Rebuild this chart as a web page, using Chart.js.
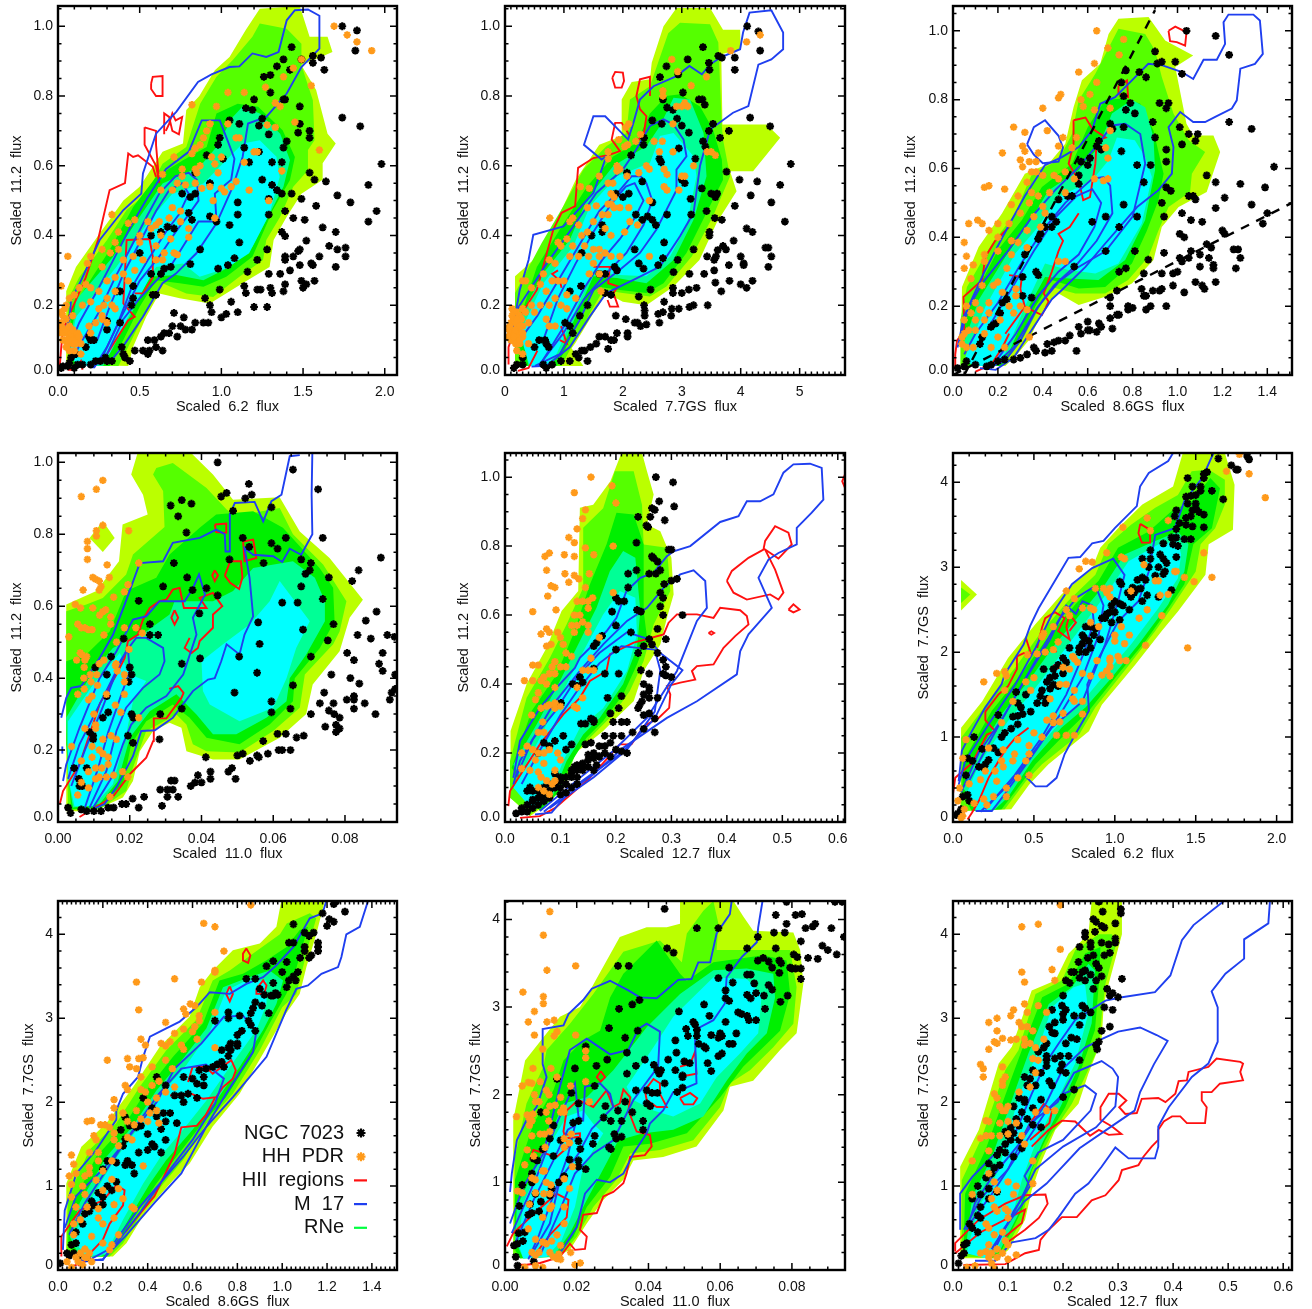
<!DOCTYPE html>
<html>
<head>
<meta charset="utf-8">
<title>Scaled PAH flux correlations</title>
<script src="https://cdn.jsdelivr.net/npm/chart.js@4"></script>
<style>
html,body{margin:0;padding:0;background:#fff;overflow:hidden;width:1312px;height:1309px}
canvas{position:absolute}
</style>
</head>
<body>
<script>
// tick values and labels
const ticks62 = [0,0.5,1,1.5,2], labels62 = ['0.0','0.5','1.0','1.5','2.0'];
const ticks77 = [0,1,2,3,4,5], labels77 = ['0','1','2','3','4','5'];
const ticks86 = [0,0.2,0.4,0.6,0.8,1,1.2,1.4], labels86 = ['0.0','0.2','0.4','0.6','0.8','1.0','1.2','1.4'];
const ticks110 = [0,0.02,0.04,0.06,0.08], labels110 = ['0.00','0.02','0.04','0.06','0.08'];
const ticks127 = [0,0.1,0.2,0.3,0.4,0.5,0.6], labels127 = ['0.0','0.1','0.2','0.3','0.4','0.5','0.6'];
const ticks112 = [0,0.2,0.4,0.6,0.8,1], labels112 = ['0.0','0.2','0.4','0.6','0.8','1.0'];
const ticksY77 = [0,1,2,3,4], labelsY77 = ['0','1','2','3','4'];

// panel 1: 6.2 vs 11.2
const p1Fill = [
[[.05,.03,.05,.24,.11,.31,.255,.406,.4,.5,.5,.54,.64,.64,.765,.664,.785,.76,.865,.8,.96,.874,1.05,.912,1.15,.99,1.235,1.05,1.48,1.058,1.54,.97,1.65,.97,1.68,.926,1.49,.888,1.58,.817,1.65,.692,1.7,.664,1.62,.607,1.62,.56,1.49,.52,1.4,.454,1.32,.387,1.295,.31,1.13,.263,.93,.205,.745,.22,.62,.234,.54,.167,.46,.081,.43,.026]],
[[.06,.03,.06,.215,.13,.28,.3,.387,.42,.473,.54,.52,.64,.606,.785,.654,.87,.778,.97,.855,1.07,.903,1.19,.97,1.235,1.008,1.4,.993,1.49,.95,1.49,.888,1.56,.788,1.57,.673,1.53,.645,1.53,.587,1.44,.54,1.36,.454,1.275,.387,1.255,.33,1.11,.282,.95,.224,.785,.234,.64,.263,.52,.167,.43,.081,.37,.026]],
[[.07,.03,.08,.186,.315,.358,.46,.482,.6,.568,.765,.616,.91,.654,.97,.75,1.1,.778,1.225,.769,1.375,.702,1.45,.625,1.42,.559,1.315,.473,1.235,.387,1.19,.339,1.03,.282,.89,.253,.745,.263,.6,.272,.5,.196,.4,.1,.315,.026]],
[[.09,.138,.11,.215,.337,.339,.5,.454,.64,.549,.867,.597,.97,.654,1.07,.74,1.13,.77,1.235,.75,1.36,.692,1.42,.616,1.38,.54,1.275,.444,1.19,.368,1.05,.31,.89,.272,.725,.287,.56,.282,.46,.186,.34,.081,.275,.026,.12,.026]],
[[.07,.062,.11,.167,.357,.31,.56,.444,.7,.52,.89,.549,1.05,.626,1.13,.664,1.235,.673,1.337,.626,1.357,.568,1.295,.463,1.17,.349,1.03,.306,.867,.282,.765,.32,.6,.31,.46,.196,.316,.062,.235,.026,.12,.026]]
];
const p1Blue = [
[.18,.026,.337,.048,.41,.09,.52,.167,.64,.263,.72,.29,.847,.349,.97,.435,1.07,.54,1.13,.625,1.163,.721,1.275,.74,1.4,.807,1.49,.883,1.6,.936,1.6,1.03,1.53,1.048,1.45,1.046,1.4,1.017,1.35,.926,1.275,.912,1.19,.922,1.11,.885,1.05,.883,.94,.862,.857,.84,.725,.755,.6,.692,.52,.578,.51,.52,.4,.473,.255,.387,.133,.263,.08,.215,.07,.158,.03,.12],
[.21,.02,.3,.06,.4,.16,.5,.22,.7,.32,.86,.44,.97,.44,.96,.52,1.06,.56,1.08,.62,1.04,.67,.99,.73,.88,.73,.8,.64,.66,.59,.55,.51,.45,.43,.35,.34,.25,.25,.13,.15,.06,.07],
[.22,.02,.3,.08,.38,.16,.5,.27,.62,.34,.72,.41,.8,.46,.86,.5,.85,.56,.8,.58,.72,.57,.62,.52,.55,.46,.45,.37,.35,.28,.25,.18,.15,.1,.08,.04],
[.25,.03,.36,.14,.45,.25,.55,.33,.66,.41,.74,.46,.8,.52,.76,.55,.68,.53,.6,.47,.5,.38,.4,.29,.32,.2,.24,.1]
];
const p1Red = [
[.01,.02,.02,.08,.03,.13,.17,.28,.245,.387,.316,.53,.41,.55,.43,.635,.46,.625,.49,.63,.58,.597,.6,.568],
[.53,.71,.53,.66,.6,.6,.62,.55,.6,.66,.6,.7,.53,.71],
[.65,.69,.65,.75,.68,.74,.7,.7,.74,.69,.76,.74,.72,.73,.7,.75,.68,.72,.66,.7],
[.57,.836,.58,.855,.64,.857,.64,.8,.6,.8,.57,.82,.57,.836],
[.3,.06,.43,.157,.47,.167,.4,.205,.42,.387,.56,.39,.58,.34,.58,.28,.52,.234,.47,.234],
[.06,.015,.1,.015,.14,.04,.15,.015]
];
const p1Black = [1.74,1,1.83,.988,1.82,.93,1.43,.94,1.49,.905,1.56,.915,1.56,.895,1.61,.91,1.63,.875,1.38,.905,1.34,.885,1.42,.875,1.3,.86,1.26,.855,1.3,.81,1.2,.79,1.38,.79,1.39,.79,1.15,.765,1.19,.76,1.48,.77,1.74,.738,1.85,.713,1.05,.73,1.11,.72,1.25,.735,1.23,.715,1.29,.69,1.48,.72,1.47,.695,1.54,.7,1.54,.68,.99,.68,.98,.66,1.14,.652,1.4,.67,1.38,.652,1.23,.64,1.01,.62,.91,.63,1.17,.61,1.31,.61,1.37,.61,1.98,.605,1.54,.58,.84,.58,1.57,.56,1.64,.555,.93,.55,1.25,.56,1.31,.545,1.9,.545,1.34,.53,1.37,.52,1.43,.52,.76,.52,.81,.51,.84,.52,1.71,.515,1.49,.505,1.29,.505,1.79,.495,1.1,.495,1.58,.485,1.95,.47,1.39,.47,1.1,.46,.8,.465,1.29,.46,.93,.455,.82,.445,.97,.44,1.44,.45,1.51,.445,1.9,.44,1.05,.43,.71,.42,.63,.41,1.62,.423,1.7,.41,1.37,.41,.57,.4,1.39,.398,.67,.425,1.52,.385,1.11,.38,1.66,.37,1.71,.36,1.76,.365,.87,.36,1.28,.36,1.48,.36,1.47,.355,.5,.35,1.22,.33,1.08,.335,1.39,.34,1.44,.34,1.6,.34,1.76,.34,1.39,.33,1.55,.32,1.56,.315,1.48,.315,.81,.318,.98,.305,1.04,.315,.69,.31,1.7,.31,1.42,.3,1.16,.296,1.29,.29,1.36,.29,.57,.29,.63,.29,.65,.305,1.49,.27,1.57,.27,1.52,.26,1.5,.25,1.39,.26,1.14,.255,1.3,.25,1.22,.245,.46,.255,.99,.245,1.24,.245,1.38,.24,1.31,.235,1.15,.235,.58,.23,.6,.23,.9,.22,.46,.22,1.06,.21,.45,.2,.93,.2,1.28,.195,1.2,.195,1.1,.18,.71,.178,.77,.165,.94,.18,1.03,.175,1,.165,.84,.15,.89,.15,.92,.15,.7,.14,.75,.14,.78,.13,.82,.13,.65,.12,.68,.12,.63,.11,.73,.11,.55,.1,.59,.1,.6,.08,.52,.07,.64,.07,.47,.07,.55,.06,.56,.07,.39,.08,.4,.06,.41,.05,.44,.04,.33,.04,.29,.05,.3,.04,.26,.04,.23,.04,.2,.03,.15,.03,.12,.03,.1,.02,.06,.025,.03,.025,.02,.02,.07,.035,.08,.05,.11,.06,.17,.08,.19,.11,.2,.1,.22,.1,.38,.15,.3,.155,.3,.13,.38,.24,.36,.24];
const p1Orange = [1.69,1,1.77,.975,1.83,.955,1.92,.93,1.49,.905,1.44,.88,1.38,.855,1.55,.83,1.27,.825,1.04,.81,1.14,.81,1.36,.77,.82,.775,.97,.77,1.33,.78,1.45,.725,1.28,.717,1.33,.71,1.04,.72,.93,.72,.91,.7,.89,.68,1.09,.68,1.11,.68,.87,.66,1.2,.64,1.22,.64,1.6,.645,.82,.635,.84,.65,.94,.625,1,.625,.96,.605,.71,.625,.76,.59,.84,.59,.87,.6,.85,.58,1.14,.61,.98,.58,1.37,.585,.64,.575,.76,.57,.73,.55,.78,.545,.84,.55,.88,.535,.93,.54,1,.535,.7,.53,.63,.53,1.02,.525,1.06,.54,1.09,.555,1.17,.53,1.29,.5,.95,.5,.7,.48,.75,.47,.96,.45,.33,.46,.6,.43,.43,.435,.47,.445,.55,.44,.62,.44,.68,.45,.75,.44,.8,.42,.37,.41,.5,.4,.57,.42,.63,.4,.69,.39,.8,.395,.35,.38,.37,.36,.5,.38,.6,.37,.65,.35,.71,.35,.73,.345,.27,.36,.32,.35,.4,.33,.46,.34,.52,.33,.06,.34,.2,.34,.18,.32,.27,.31,.4,.29,.47,.3,.6,.33,.64,.33,.35,.28,.43,.27,.3,.27,.02,.255,.13,.25,.17,.26,.2,.25,.25,.24,.3,.22,.35,.24,.07,.22,.1,.23,.15,.2,.2,.21,.25,.19,.28,.2,.33,.2,.35,.19,.05,.2,.27,.17,.3,.15,.23,.15,.19,.14,.2,.12,.09,.17,.02,.18,.02,.15,.03,.13,.02,.12,.06,.12,.08,.1,.1,.11,.12,.1,.06,.09,.09,.09,.14,.09,.04,.1,.03,.1,.1,.07,.14,.06,.07,.07,.27,.16,.06,.1,.11,.09,.05,.08,.04,.12,.05,.13,.07,.11,.08,.12,.09,.1,.1,.09,.03,.17,.04,.19,.05,.16,.07,.14,.09,.13,.12,.12,.13,.11,.02,.14];

// panel 2: 7.7GS vs 11.2
const p2Fill = [
[[.17,.026,.17,.283,.48,.33,.88,.445,1.2,.56,1.6,.66,1.98,.685,1.98,.79,2.15,.84,2.46,.848,2.49,.895,2.69,1,2.91,1.052,3.48,1.052,3.7,.99,3.99,.99,4,.934,3.67,.92,3.69,.718,4.44,.718,4.67,.68,4.21,.584,3.82,.584,3.93,.527,3.59,.436,3.3,.33,2.86,.254,2.4,.2,2,.21,1.72,.235,1.5,.177,1.19,.09,1.13,.077,1.33,.026]],
[[.17,.026,.17,.235,.62,.378,.99,.484,1.33,.589,1.72,.656,2.06,.694,2.12,.79,2.46,.828,2.77,.98,2.97,1.01,3.48,1.006,3.62,.953,3.68,.714,3.7,.675,3.82,.57,3.53,.455,3.17,.34,2.74,.254,2.46,.225,2,.235,1.67,.244,1.44,.177,1.1,.072,.96,.026]],
[[.17,.12,.54,.31,.93,.417,1.39,.54,1.84,.627,2.23,.665,2.46,.75,2.74,.8,2.97,.805,3.31,.77,3.53,.704,3.68,.618,3.7,.56,3.42,.465,3.08,.35,2.69,.263,2.4,.235,1.95,.244,1.56,.254,1.33,.187,.99,.062,.88,.026,.31,.026]],
[[.23,.158,.65,.292,1.1,.388,1.39,.503,1.84,.6,2.4,.656,2.63,.714,2.86,.795,3.14,.79,3.37,.694,3.42,.57,3.2,.445,2.86,.33,2.4,.263,1.9,.278,1.5,.283,1.27,.196,.93,.062,.76,.026,.4,.026]],
[[.25,.12,.65,.263,1.16,.369,1.44,.484,1.9,.57,2.46,.608,2.63,.685,2.86,.694,3.2,.627,3.25,.57,3.08,.426,2.8,.34,2.4,.283,1.95,.287,1.5,.297,1.22,.196,.88,.062,.7,.026,.42,.026]]
];
const p2Blue = [
[.45,.024,.7,.026,1.1,.08,1.44,.168,1.72,.235,2.18,.273,2.63,.311,2.97,.398,3.2,.465,3.31,.6,3.48,.704,3.87,.752,4.13,.771,4.3,.89,4.52,.905,4.72,.934,4.72,.982,4.52,1.046,4.15,1.039,4.04,.982,3.99,.934,3.65,.91,3.48,.89,3.34,.862,3.13,.886,2.91,.857,2.52,.828,2.29,.79,2.18,.723,2.09,.675,1.7,.742,1.5,.742,1.34,.66,1.64,.618,1.72,.627,1.5,.522,.99,.426,.48,.402,.4,.33,.25,.244,.17,.168,.08,.09],
[.51,.026,.93,.06,1.27,.158,1.5,.244,1.95,.302,2.29,.35,2.57,.417,2.91,.53,2.91,.589,3.08,.627,3.03,.675,2.86,.718,2.69,.733,2.46,.714,2.23,.647,2,.589,1.55,.522,1.16,.426,.71,.32,.2,.187,.11,.1],
[.57,.026,.99,.12,1.33,.215,1.67,.283,2.06,.35,2.35,.43,2.5,.5,2.4,.55,2.3,.57,2.15,.57,1.95,.53,1.6,.47,1.25,.37,.9,.27,.55,.17,.25,.1],
[.6,.03,1,.14,1.35,.25,1.65,.33,1.95,.39,2.2,.45,2.35,.5,2.2,.55,2.05,.54,1.8,.49,1.5,.41,1.2,.32,.9,.22,.65,.1]
];
const p2Red = [
[.06,.03,.06,.08,.1,.1],
[.25,.168,.54,.244,.71,.35,.82,.417,.96,.465,1.19,.484,1.24,.594,1.5,.622,1.78,.632,1.95,.642,1.81,.675,1.87,.723,1.98,.723,2.12,.685],
[1.82,.852,1.87,.869,2,.867,2.02,.843,1.98,.824,1.87,.824,1.82,.852],
[2.18,.665,2.35,.685,2.4,.742,2.29,.762,2.23,.8,2.29,.848,2.46,.855,2.46,.8],
[1.5,.31,1.78,.31,1.75,.263,1.92,.254,1.84,.235,1.92,.196,1.78,.196,1.74,.215],
[.9,.3,.8,.29,.93,.27,.96,.25],
[.22,.012,.4,.02,.55,.07],
[.93,.1,1.05,.09,.95,.14]
];
const p2Black = [4.11,1,4.3,.985,4.33,.93,3.36,.94,3.1,.905,3.62,.915,3.68,.91,3.9,.91,3.9,.875,3.46,.895,3.47,.875,2.74,.885,2.94,.862,2.63,.854,3.02,.81,3.29,.79,3.35,.79,3.39,.775,2.68,.79,2.75,.767,2.85,.76,4.16,.738,4.5,.713,2.5,.73,2.66,.72,2.92,.735,3,.715,3.12,.695,3.53,.72,3.46,.7,3.8,.7,3.65,.68,2.36,.68,2.35,.66,2.95,.65,3.36,.67,3.4,.655,2.62,.62,2.65,.61,3.23,.62,2.14,.63,4.85,.605,2.07,.58,3.76,.583,3.98,.56,4.28,.555,3,.56,3.05,.55,2.33,.555,4.67,.545,3.34,.535,3.5,.52,3.6,.52,3.57,.51,1.88,.52,2.1,.52,2,.51,4.17,.515,3.15,.505,2.5,.495,4.52,.495,3.9,.485,3.42,.47,2.75,.46,3.16,.46,2.22,.46,2.42,.455,2.33,.445,3.56,.45,2.5,.445,3.68,.445,4.75,.44,2.56,.43,1.65,.43,1.65,.41,4.1,.42,4.2,.41,3.47,.41,3.47,.4,1.47,.4,2.7,.38,3.88,.385,4.42,.365,4.47,.365,3.75,.36,3.2,.36,3.7,.37,2.2,.36,3.61,.358,1.3,.35,3.43,.34,4,.34,4.52,.34,3.58,.34,3.55,.33,2.68,.335,2.6,.315,2.93,.33,2.35,.305,4.47,.31,4.05,.315,4.05,.32,3.8,.315,3.55,.3,3.38,.29,3.13,.29,2.86,.295,1.86,.31,1.9,.3,2.27,.32,1.7,.29,1.6,.29,3.57,.265,3.81,.27,4,.26,4.1,.25,4.2,.27,3.67,.24,2.85,.25,3.25,.25,3.12,.245,1.29,.255,1.1,.24,2.47,.245,2.27,.225,1.7,.235,1.8,.23,2.85,.235,3,.235,1.4,.2,2.7,.21,2.36,.2,3.44,.2,3.2,.2,3.13,.195,2.37,.185,2.83,.19,2.95,.19,1.27,.17,1.88,.17,2.05,.16,2.82,.17,2.37,.17,2.2,.15,2.25,.15,2.6,.175,2.68,.18,2.62,.15,2.4,.145,2.3,.14,1.02,.15,1.1,.14,1.15,.12,2.08,.12,2.08,.11,1.9,.12,1.7,.11,1.8,.1,1.85,.1,1.6,.11,1.55,.09,1.45,.08,1.3,.07,1.35,.07,1.2,.06,1.25,.05,1.1,.04,.95,.04,.8,.03,.7,.02,.65,.03,.3,.03,.15,.02,.2,.03,.3,.05,.5,.08,.58,.1,.68,.1,.7,.09,.74,.08,1.75,.075,1.4,.04];
const p2Orange = [4.1,.955,4.33,.975,3.83,.93,2.83,.905,2.93,.87,3.42,.855,3.16,.83,2.68,.815,2.68,.8,3.05,.78,3.1,.77,3,.77,2.91,.77,2.85,.72,2.1,.72,2.05,.71,1.93,.675,2.3,.69,2.22,.67,2.08,.66,2.03,.655,2.53,.67,2.67,.67,2.85,.64,3.43,.64,3.5,.64,3.57,.63,2.62,.64,1.75,.64,1.75,.62,1.9,.6,2.4,.6,2.45,.59,2.27,.58,2.07,.57,1.9,.585,1.95,.59,2.7,.59,2.75,.575,3,.57,3.05,.57,3.2,.6,.76,.45,1.28,.54,1.43,.535,1.6,.57,1.75,.55,1.83,.55,1.8,.52,1.85,.51,2.7,.54,2.75,.53,2.95,.53,1.75,.49,1.8,.49,1.55,.485,1.4,.48,1.65,.46,1.75,.46,1.85,.48,1.95,.48,2.1,.48,2.45,.5,2.25,.43,2.12,.44,2.03,.41,1.15,.45,1.1,.44,1.25,.43,1.4,.41,1.5,.44,1.3,.4,1.7,.42,1.8,.4,1.05,.39,.9,.38,.95,.37,1.15,.37,1.35,.37,1.5,.36,1.6,.36,1.7,.35,1.8,.34,1.95,.34,2.45,.34,.75,.33,.85,.32,1.1,.34,1.25,.34,1.42,.34,1.5,.32,1.6,.34,.3,.27,.35,.27,.45,.25,.65,.29,.8,.27,.9,.27,1,.27,1.43,.29,1.6,.29,.6,.26,.7,.24,.85,.22,1.05,.23,1.2,.22,1.63,.24,.45,.2,.6,.2,.75,.2,.95,.2,1.05,.19,.3,.19,.2,.18,.12,.19,.25,.17,.35,.18,.5,.18,.7,.16,.75,.14,.85,.14,.1,.15,.15,.16,.2,.15,.3,.14,.4,.15,.1,.12,.15,.12,.22,.13,.3,.11,.07,.13,.05,.11,.12,.1,.18,.09,.25,.09,.4,.09,.2,.07,.3,.06,.15,.18,.18,.15,.2,.12,.25,.14,.12,.17,.17,.13,.1,.1,.22,.11,.3,.12,.28,.16,.15,.11,.2,.16,.08,.14,.25,.1];

// panel 3: 8.6GS vs 11.2 (with the two dashed reference lines)
const p3Fill = [
[[.035,.026,.04,.256,.114,.372,.218,.469,.32,.585,.426,.614,.5,.672,.537,.778,.574,.856,.656,.904,.693,.991,.737,1.035,.871,1.04,.945,.972,1.07,.928,.99,.895,1.04,.73,1.07,.696,1.16,.696,1.19,.648,1.13,.532,1.005,.488,.93,.43,.893,.334,.797,.266,.678,.227,.56,.203,.47,.237,.41,.198,.337,.1,.277,.053,.233,.026]],
[[.033,.026,.033,.16,.062,.256,.174,.382,.277,.469,.352,.585,.47,.624,.53,.7,.56,.798,.634,.875,.737,1.006,.856,.991,.9,.943,.93,.866,.982,.76,1.05,.682,1.123,.648,1.064,.585,1.056,.532,.96,.488,.915,.42,.87,.343,.78,.276,.678,.237,.545,.237,.44,.256,.38,.19,.307,.1,.263,.063,.218,.026]],
[[.047,.14,.085,.218,.2,.363,.307,.45,.396,.546,.53,.614,.6,.72,.678,.8,.767,.803,.834,.788,.893,.71,.938,.585,.915,.508,.864,.42,.797,.324,.678,.256,.56,.251,.44,.276,.366,.198,.277,.082,.218,.026,.07,.026]],
[[.047,.09,.114,.218,.233,.343,.337,.44,.426,.537,.56,.595,.648,.662,.708,.76,.797,.8,.856,.778,.893,.69,.9,.595,.856,.45,.767,.334,.648,.276,.515,.28,.41,.285,.337,.198,.248,.063,.188,.026,.085,.026]],
[[.055,.053,.144,.198,.277,.353,.366,.42,.47,.517,.62,.566,.693,.624,.73,.69,.81,.682,.856,.633,.886,.575,.841,.44,.737,.324,.634,.295,.515,.305,.41,.324,.32,.198,.233,.063,.174,.026,.085,.026]]
];
const p3Blue = [
[.12,.02,.19,.015,.27,.05,.36,.14,.44,.22,.485,.247,.59,.314,.678,.382,.82,.488,.915,.537,.975,.585,.982,.662,.96,.72,1.012,.764,1.07,.735,1.123,.735,1.168,.75,1.242,.774,1.264,.798,1.28,.89,1.345,.904,1.38,.933,1.367,1.03,1.338,1.047,1.227,1.047,1.205,1.025,1.212,.962,1.175,.916,1.116,.916,1.07,.86,1.02,.88,.93,.9,.87,.904,.797,.856,.722,.807,.656,.788,.619,.71,.56,.662,.485,.633,.41,.61,.32,.52,.22,.4,.14,.3,.07,.2,.04,.13,.02,.08],
[.33,.67,.36,.72,.41,.74,.47,.695,.49,.66,.47,.62,.4,.615,.36,.64,.33,.67],
[.15,.02,.23,.04,.3,.1,.38,.2,.47,.27,.55,.31,.68,.36,.8,.46,.856,.614,.834,.7,.767,.73,.708,.725,.648,.672,.56,.604,.455,.537,.352,.46,.248,.363,.13,.266,.047,.17,.025,.09],
[.17,.02,.27,.08,.37,.19,.45,.26,.55,.32,.64,.39,.71,.47,.7,.55,.67,.575,.62,.57,.5,.5,.4,.42,.3,.32,.2,.21,.1,.12,.05,.06],
[.18,.03,.28,.12,.38,.23,.47,.3,.56,.35,.63,.43,.66,.5,.62,.54,.55,.52,.46,.46,.36,.36,.26,.25,.16,.14]
];
const p3Red = [
[.01,.02,.01,.06,.018,.1,.05,.13,.047,.227,.13,.276,.144,.343,.188,.39,.25,.43],
[.537,.74,.59,.748,.62,.716,.68,.69,.64,.68,.634,.614,.61,.517,.58,.508,.56,.566,.515,.614,.537,.672,.537,.74],
[.96,1,.99,1.012,1.04,.996,1.034,.957,.997,.967,.967,.97,.96,1],
[.737,.84,.775,.856,.78,.807,.737,.817,.737,.84],
[.32,.198,.396,.174,.426,.213,.404,.237,.44,.3,.47,.36,.49,.39,.47,.41,.52,.43,.56,.47],
[.233,.12,.32,.198,.3,.25,.307,.285,.25,.29],
[.1,.01,.17,.03,.22,.08,.25,.12]
];
const p3Black = [1.04,1,1.17,.985,1.23,.93,.9,.94,.99,.91,.93,.91,.91,.905,1.02,.875,.83,.88,.86,.865,.77,.885,.75,.85,.76,.81,.79,.79,.92,.79,.96,.79,.95,.775,.77,.77,.81,.76,.89,.735,1.23,.735,1.33,.715,1.01,.72,1.05,.7,1.09,.7,.7,.73,.71,.715,.76,.72,.9,.69,.65,.68,.64,.665,.66,.655,1.08,.68,1.02,.67,.75,.65,.95,.655,.57,.62,.61,.63,.6,.61,.82,.61,.88,.61,.95,.62,1.43,.605,.56,.58,1.13,.58,.56,.555,.85,.56,1.17,.56,1.28,.555,.95,.545,.97,.535,1.39,.545,.51,.52,.53,.52,.47,.51,1.05,.52,1.07,.52,1.08,.51,1.21,.515,.76,.495,.93,.5,1.33,.495,1.17,.485,1.02,.47,.68,.46,.82,.46,.94,.46,.62,.445,.44,.46,.46,.445,1.06,.45,1.11,.445,1.4,.47,1.38,.44,.41,.43,.44,.43,.39,.41,.74,.43,1.01,.41,1.2,.42,1.21,.41,1.03,.4,.38,.395,1.13,.38,1.15,.37,.81,.36,1.06,.36,.68,.36,.94,.355,.32,.35,1.1,.35,1.25,.365,1.27,.365,1.01,.34,1.05,.34,1.14,.34,1.28,.34,.87,.335,1.02,.33,.54,.315,.77,.31,.74,.3,.37,.3,.38,.29,1.1,.315,1.16,.32,1.16,.31,1.26,.31,.85,.295,.93,.295,.98,.295,1,.3,.31,.285,1.08,.27,1.17,.27,.84,.25,1.11,.26,1.12,.25,.89,.245,.92,.245,.93,.25,.98,.26,1.03,.24,.73,.245,.85,.23,.86,.23,.7,.225,.31,.23,.35,.225,.78,.2,.78,.19,.8,.195,.88,.2,.95,.2,.7,.2,.74,.175,.86,.19,.73,.175,.7,.165,.21,.18,.6,.155,.65,.15,.66,.14,.71,.135,.6,.13,.61,.13,.56,.14,.57,.12,.64,.125,.52,.115,.5,.1,.47,.1,.45,.095,.42,.09,.36,.08,.37,.07,.55,.07,.44,.07,.41,.065,.33,.06,.3,.05,.27,.045,.23,.045,.2,.04,.17,.03,.15,.025,.1,.03,.05,.025,.02,.02,.06,.04,.12,.09,.13,.11,.19,.15,.24,.22,.22,.21,.17,.14];
const p3Orange = [.64,1,.69,.95,.76,.975,.74,.93,.63,.905,.56,.88,.64,.85,.61,.815,.57,.8,.58,.78,.48,.815,.47,.805,.4,.775,.27,.72,.32,.705,.42,.71,.49,.69,.47,.665,.55,.69,.53,.66,.32,.65,.31,.665,.22,.645,.38,.645,.37,.62,.3,.625,.34,.62,.31,.605,.7,.71,.7,.775,.63,.77,.68,.66,.69,.63,.35,.59,.37,.59,.33,.56,.4,.58,.45,.58,.47,.57,.5,.59,.54,.57,.63,.57,.69,.57,.67,.565,.16,.55,.14,.545,.23,.54,.29,.52,.35,.53,.38,.52,.43,.53,.5,.53,.34,.5,.4,.49,.26,.495,.3,.47,.36,.46,.41,.47,.07,.44,.11,.45,.13,.44,.2,.44,.25,.44,.33,.42,.39,.43,.16,.42,.05,.385,.2,.4,.26,.39,.29,.385,.33,.37,.06,.345,.09,.32,.14,.35,.2,.36,.26,.35,.05,.31,.14,.33,.24,.31,.47,.33,.5,.33,.08,.28,.13,.26,.18,.26,.2,.27,.28,.25,.22,.24,.28,.23,.1,.21,.16,.21,.25,.2,.3,.2,.06,.2,.08,.18,.12,.19,.16,.18,.27,.18,.33,.19,.05,.16,.1,.16,.14,.16,.21,.16,.04,.11,.07,.13,.1,.13,.14,.12,.04,.09,.06,.08,.09,.08,.17,.08,.23,.08,.34,.11,.2,.11,.05,.12];
const p3Dash = [[.05,0,.9,1.06],[0,0,1.51,.5]];

// panel 4: 11.0 vs 11.2
const p4Fill = [
[[.0023,.03,.0023,.605,.0107,.642,.017,.725,.018,.827,.025,.855,.0237,.91,.0204,.966,.0223,1.03,.0367,1.03,.0432,.966,.0488,.896,.0618,.903,.0674,.808,.0757,.734,.085,.618,.0813,.568,.0785,.475,.071,.382,.0692,.3,.0618,.234,.0506,.174,.0432,.174,.0358,.197,.0344,.262,.0311,.276,.0265,.253,.0228,.197,.0209,.114,.0181,.068,.0098,.03],[.0088,.79,.0125,.836,.0158,.79,.0125,.751]],
[[.0023,.456,.0023,.586,.0079,.605,.0125,.623,.019,.688,.0209,.744,.0297,.82,.0293,.92,.0265,.966,.0274,.984,.032,.998,.0414,.929,.047,.869,.0493,.85,.0618,.873,.0655,.8,.0739,.716,.0804,.614,.0785,.53,.0767,.494,.0688,.41,.0674,.318,.06,.253,.0506,.193,.0414,.197,.0376,.216,.0358,.271,.033,.299,.0246,.253,.0209,.151,.019,.086,.0116,.035,.0028,.035]],
[[.0023,.216,.0023,.447,.0079,.466,.0144,.53,.019,.642,.0274,.679,.0311,.744,.0395,.818,.0441,.855,.0544,.864,.0627,.818,.0729,.706,.0767,.651,.0771,.558,.073,.484,.066,.4,.0655,.336,.059,.271,.0506,.216,.0414,.234,.0367,.29,.032,.327,.0246,.28,.0204,.216,.0181,.105,.0116,.04,.0037,.035]],
[[.0028,.123,.0023,.29,.0098,.42,.0153,.484,.0246,.53,.0311,.577,.0325,.614,.0432,.614,.0488,.642,.0544,.706,.0655,.725,.0716,.679,.0744,.614,.0744,.558,.0692,.466,.0646,.4,.0637,.336,.0581,.29,.0497,.244,.0432,.244,.0386,.299,.033,.355,.0256,.308,.02,.234,.0167,.114,.0116,.05,.0042,.04]],
[[.0618,.67,.0702,.558,.0664,.484,.0637,.4,.06,.318,.0506,.28,.0423,.327,.0404,.364,.04,.447,.046,.494,.0534,.549,.059,.614],[.0028,.28,.0098,.382,.0172,.47,.02,.41,.0246,.392,.0209,.336,.019,.244,.0153,.105,.0098,.044,.0046,.044,.0028,.123]]
];
const p4Blue = [
[.0085,.03,.013,.05,.0165,.1,.0209,.183,.0232,.253,.027,.255,.032,.29,.0376,.364,.0418,.396,.0437,.4,.0455,.447,.047,.494,.0506,.466,.052,.521,.0544,.572,.0534,.679,.052,.762,.0544,.743,.06,.739,.0625,.723,.0646,.76,.0678,.743,.0709,.8,.0707,.91,.0709,1.026],
[.0009,.29,.0023,.345,.0037,.373,.0065,.378,.0116,.456,.0153,.52,.0186,.605,.0228,.72,.0293,.725,.032,.776,.0395,.79,.0441,.813,.0465,.8,.0467,.752,.0477,.752,.0479,.855,.0493,.887,.0548,.89,.0572,.836,.0595,.892,.0623,.91,.0646,1.017,.0674,1.02],
[.0014,.114,.0023,.16,.006,.262,.0116,.4,.0163,.475,.0209,.563,.0246,.572,.0283,.614,.0353,.614,.0376,.65,.0393,.688,.041,.632,.0376,.568,.0386,.521,.0349,.41,.0302,.35,.0246,.318,.0204,.271,.0181,.216,.0149,.123,.0098,.04],
[.0028,.12,.006,.216,.0125,.345,.019,.475,.0218,.512,.0246,.512,.0293,.484,.0297,.447,.0283,.41,.0237,.373,.019,.318,.0163,.253,.0135,.142,.0088,.04],
[.0037,.1,.0075,.2,.0125,.32,.0175,.45,.0195,.48,.02,.42,.0168,.33,.014,.25,.0112,.15,.0075,.04],
[.0012,.19,.0012,.21]
];
const p4Red = [
[.0005,.05,.0014,.086,.006,.16,.0117,.33,.0163,.41,.0186,.456,.0195,.503,.0223,.521,.0237,.563,.0256,.595,.0283,.614,.0302,.618,.032,.646,.0339,.651,.0351,.595,.0414,.595,.0395,.623,.0432,.637,.0458,.6,.0432,.577,.0432,.54,.0395,.503,.039,.484,.0372,.47,.0353,.484,.0367,.512],
[.0465,.685,.048,.725,.051,.725,.0514,.68,.0505,.648,.048,.665,.0465,.685],
[.0437,.827,.0469,.83,.0469,.804,.0441,.806,.0437,.827],
[.0516,.78,.0544,.785,.0553,.734,.052,.725,.0516,.78],
[.0437,.7,.0446,.686,.0437,.67,.043,.686,.0437,.7],
[.0325,.589,.0335,.568,.0325,.549,.0316,.568,.0325,.589],
[.006,.014,.0153,.07,.0204,.137,.0246,.179,.0265,.225,.0267,.288,.0302,.288,.0344,.345,.035,.359,.0335,.378,.031,.37]
];
const p4Black = [.0445,1,.0655,.98,.0532,.94,.0725,.925,.0455,.905,.047,.915,.0522,.9,.054,.91,.0314,.88,.0345,.895,.0372,.885,.0335,.85,.0595,.875,.0488,.865,.0358,.805,.0515,.79,.0635,.79,.0738,.79,.0595,.775,.0533,.765,.0612,.76,.0323,.72,.0478,.73,.0573,.72,.0678,.73,.0705,.72,.0702,.7,.069,.69,.09,.735,.0838,.7,.082,.67,.036,.68,.0755,.68,.0414,.65,.0293,.655,.0375,.645,.0678,.655,.0445,.63,.0225,.615,.0625,.61,.0668,.61,.0738,.62,.0394,.58,.0256,.55,.0558,.555,.0683,.535,.0768,.55,.0888,.585,.0858,.56,.0256,.52,.0279,.52,.0183,.51,.0835,.52,.0872,.51,.0938,.515,.0918,.52,.0752,.505,.0562,.495,.0806,.47,.0905,.47,.0705,.46,.0396,.455,.0505,.46,.0148,.46,.0345,.44,.0825,.45,.0895,.44,.02,.43,.0104,.43,.0205,.41,.0136,.41,.0197,.39,.0555,.415,.0762,.41,.0905,.42,.094,.41,.0815,.4,.084,.385,.0655,.38,.0492,.36,.0742,.36,.094,.37,.093,.36,.0136,.35,.0595,.335,.0825,.35,.0805,.34,.0825,.34,.0925,.34,.0855,.33,.073,.33,.0768,.33,.0345,.315,.0285,.3,.0648,.315,.0595,.305,.0205,.3,.021,.29,.0705,.3,.0125,.29,.0755,.31,.077,.3,.0785,.29,.0825,.315,.0885,.3,.0745,.265,.0775,.27,.0785,.26,.0088,.25,.0098,.23,.0775,.25,.0635,.245,.0612,.245,.0685,.24,.0665,.235,.0209,.22,.0283,.23,.0572,.225,.0615,.2,.0625,.2,.0648,.2,.0515,.19,.05,.185,.0535,.17,.0555,.185,.0585,.19,.0412,.18,.056,.18,.0485,.15,.0475,.14,.0425,.14,.039,.13,.0425,.12,.0495,.12,.0382,.11,.0325,.115,.0315,.115,.037,.1,.04,.11,.0285,.09,.0305,.09,.032,.09,.0335,.07,.029,.045,.0305,.07,.0225,.04,.024,.07,.0208,.065,.019,.05,.0178,.05,.0155,.04,.014,.04,.012,.03,.01,.03,.008,.03,.0065,.035,.0035,.025,.0028,.04,.0068,.1,.0058,.12,.006,.1,.008,.15,.0045,.15,.0098,.24,.014,.305,.0195,.24];
const p4Orange = [.0125,.95,.0107,.925,.0065,.905,.0125,.825,.0197,.81,.0107,.81,.0107,.795,.0082,.78,.0082,.76,.0082,.73,.0137,.715,.0225,.72,.0097,.68,.0105,.675,.0115,.67,.0143,.68,.0195,.66,.0185,.64,.007,.645,.0115,.645,.012,.655,.0155,.625,.0048,.605,.0063,.595,.0097,.595,.0125,.585,.0133,.59,.0116,.575,.0147,.57,.0147,.55,.0055,.55,.0065,.54,.0075,.54,.0085,.535,.0095,.535,.0128,.52,.003,.515,.0185,.54,.0217,.54,.0235,.525,.0163,.5,.0198,.48,.0062,.47,.0067,.465,.0052,.45,.0075,.45,.008,.46,.0128,.45,.0115,.44,.0162,.44,.016,.435,.0165,.42,.0073,.43,.0072,.4,.009,.41,.0108,.41,.0185,.41,.0185,.39,.0073,.37,.0092,.39,.011,.38,.0095,.35,.0055,.355,.0085,.34,.0135,.355,.0185,.355,.016,.325,.0175,.305,.0225,.29,.01,.3,.0105,.26,.0075,.26,.0105,.27,.0125,.23,.0148,.24,.0163,.23,.0095,.21,.0038,.21,.0115,.2,.0125,.19,.0065,.17,.0095,.18,.014,.18,.0105,.15,.0122,.15,.014,.16,.0155,.13,.018,.14,.0195,.125,.0085,.14,.0115,.125,.0065,.11,.0085,.095,.0055,.075,.0105,.12,.0135,.125,.0145,.07];

// panel 5: 12.7 vs 11.2
const p5Fill = [
[[.01,.07,.01,.264,.039,.4,.075,.505,.102,.612,.132,.67,.135,.911,.159,.92,.19,.988,.21,1.07,.247,1.07,.256,1.017,.268,.95,.256,.863,.28,.843,.3,.766,.304,.66,.292,.592,.28,.515,.25,.438,.232,.35,.195,.293,.177,.264,.147,.225,.123,.196,.111,.109,.075,.051,.045,.017]],
[[.009,.07,.009,.177,.039,.36,.081,.476,.111,.573,.141,.679,.141,.853,.177,.91,.198,1.017,.232,1.017,.247,.92,.25,.805,.292,.795,.298,.67,.268,.573,.25,.467,.225,.38,.195,.312,.159,.254,.129,.206,.111,.128,.075,.056,.045,.022]],
[[.012,.157,.048,.322,.093,.428,.123,.544,.153,.689,.183,.805,.201,.897,.232,.892,.25,.805,.25,.612,.256,.534,.238,.457,.213,.37,.177,.293,.147,.244,.117,.167,.099,.09,.063,.032]],
[[.015,.167,.057,.283,.099,.409,.135,.525,.165,.621,.189,.727,.213,.786,.235,.766,.244,.612,.238,.505,.213,.4,.171,.302,.141,.254,.111,.177,.087,.08,.057,.037]],
[[.015,.1,.063,.244,.099,.36,.135,.476,.177,.602,.207,.67,.235,.65,.238,.544,.22,.438,.177,.33,.135,.273,.105,.177,.081,.08,.051,.032]]
];
const p5Blue = [
[.054,.022,.084,.027,.117,.09,.159,.138,.213,.215,.292,.302,.346,.35,.418,.428,.424,.495,.439,.544,.481,.621,.457,.708,.475,.761,.493,.78,.526,.805,.526,.853,.553,.897,.574,.935,.571,1.027,.55,1.039,.52,1.037,.502,1.013,.484,.95,.46,.93,.436,.93,.421,.887,.388,.87,.334,.8,.304,.785,.292,.771,.268,.723,.244,.708,.219,.67,.201,.592,.183,.553,.135,.476,.126,.447,.093,.39,.063,.331,.027,.235,.015,.128],
[.063,.032,.135,.128,.195,.206,.256,.302,.31,.438,.346,.583,.364,.621,.361,.699,.34,.73,.316,.718,.286,.679,.256,.621,.22,.583,.177,.515,.135,.438,.087,.341,.027,.177,.015,.109],
[.07,.03,.14,.12,.21,.2,.27,.3,.3,.4,.32,.44,.28,.49,.26,.53,.22,.55,.17,.49,.13,.42,.09,.32,.05,.24,.02,.13],
[.08,.04,.16,.13,.22,.21,.27,.32,.28,.44,.27,.5,.21,.51,.17,.46,.13,.38,.1,.31,.06,.2,.03,.11]
];
const p5Red = [
[.027,.012,.063,.017,.09,.04,.153,.128,.207,.225,.228,.225,.25,.278,.277,.302,.296,.331,.298,.37,.292,.394,.316,.404,.343,.413,.337,.438,.346,.452,.376,.457,.394,.505,.415,.539,.439,.573,.436,.597,.424,.614,.388,.621,.376,.592,.346,.602,.31,.602,.295,.578,.286,.544,.232,.52,.189,.486,.183,.438,.153,.409,.135,.36,.105,.312,.063,.225,.009,.09,.006,.046],
[.4,.699,.409,.728,.439,.766,.466,.79,.469,.815,.487,.858,.511,.839,.517,.805,.493,.764,.469,.79,.487,.732,.502,.665,.493,.645,.478,.66,.436,.645,.412,.665,.4,.699],
[.511,.616,.52,.631,.531,.616,.52,.608,.511,.616],
[.367,.548,.372,.553,.377,.548,.372,.543,.367,.548],
[.613,1.008,.608,.988,.613,.969]
];
const p5Black = [.272,1,.303,.985,.278,.93,.305,.915,.265,.91,.27,.905,.262,.885,.24,.885,.288,.875,.258,.855,.255,.86,.237,.81,.265,.77,.268,.765,.275,.755,.295,.79,.3,.79,.26,.72,.272,.72,.28,.73,.222,.72,.237,.73,.31,.705,.3,.7,.287,.69,.28,.665,.222,.68,.2,.65,.205,.64,.215,.64,.285,.65,.28,.625,.193,.61,.238,.615,.245,.61,.285,.6,.32,.6,.2,.57,.227,.55,.175,.54,.275,.56,.26,.53,.29,.53,.24,.49,.165,.52,.16,.51,.25,.51,.265,.515,.275,.49,.285,.47,.29,.45,.2,.5,.16,.445,.18,.43,.205,.43,.245,.44,.285,.43,.29,.425,.26,.43,.3,.42,.135,.42,.14,.405,.122,.4,.13,.395,.25,.4,.26,.39,.26,.38,.21,.365,.185,.36,.25,.37,.26,.36,.275,.36,.247,.35,.205,.33,.24,.33,.243,.34,.25,.31,.155,.3,.16,.295,.19,.315,.195,.29,.21,.29,.22,.29,.26,.315,.27,.3,.137,.285,.145,.285,.101,.345,.1,.34,.105,.25,.16,.29,.18,.25,.19,.23,.155,.23,.145,.225,.09,.235,.07,.23,.08,.22,.12,.225,.11,.21,.17,.22,.15,.195,.17,.19,.18,.2,.195,.25,.21,.25,.21,.205,.06,.2,.16,.185,.165,.165,.125,.16,.13,.165,.14,.16,.14,.15,.12,.13,.09,.14,.1,.13,.11,.11,.13,.11,.08,.11,.09,.1,.06,.09,.065,.08,.05,.09,.065,.07,.06,.05,.07,.06,.05,.04,.04,.03,.03,.03,.02,.025,.05,.065,.08,.07,.1,.08,.11,.085,.12,.1,.04,.09,.045,.1,.05,.06,.07,.08,.08,.09,.09,.11,.1,.12,.11,.13,.12,.14,.13,.15,.14,.17,.15,.18,.16,.2,.17,.19,.18,.22,.19,.19,.13,.13,.12,.15,.1,.1,.07,.1,.2,.21,.22,.2,.16,.15,.15,.16,.04,.05,.03,.04,.06,.07,.23,.26,.25,.27,.27,.26];
const p5Orange = [.155,1,.193,.975,.125,.955,.2,.925,.145,.905,.14,.88,.13,.85,.115,.825,.125,.81,.145,.795,.195,.8,.16,.775,.125,.77,.107,.775,.08,.78,.072,.77,.075,.73,.108,.72,.125,.715,.133,.705,.152,.72,.115,.695,.083,.685,.09,.68,.145,.68,.158,.65,.195,.665,.077,.655,.13,.64,.14,.64,.15,.64,.15,.62,.05,.61,.092,.615,.125,.6,.135,.6,.14,.58,.15,.57,.12,.57,.065,.545,.075,.56,.08,.55,.095,.55,.1,.535,.15,.55,.17,.535,.125,.55,.083,.515,.075,.51,.105,.515,.11,.49,.12,.48,.09,.465,.05,.455,.06,.455,.085,.45,.1,.45,.11,.45,.155,.475,.14,.44,.15,.44,.08,.43,.09,.43,.07,.42,.035,.41,.05,.41,.065,.41,.075,.4,.09,.39,.13,.39,.14,.36,.06,.375,.075,.335,.08,.34,.09,.33,.1,.335,.09,.345,.055,.355,.125,.335,.048,.31,.065,.33,.068,.29,.13,.33,.06,.26,.07,.26,.03,.2,.04,.22,.05,.21,.06,.2,.07,.2,.08,.21,.095,.2,.03,.155,.045,.15,.055,.18,.07,.17,.1,.18,.06,.145,.065,.13,.075,.12,.09,.12,.085,.11,.06,.1,.07,.09,.08,.08,.09,.15,.16,.44,.13,.57];

// panel 6: 6.2 vs 7.7GS
const p6Fill = [
[[.045,.13,.05,1.11,.18,1.42,.34,1.93,.51,2.33,.67,2.68,.86,2.99,.91,3.23,1.02,3.46,1.17,3.74,1.36,3.95,1.42,4.345,1.68,4.345,1.74,3.97,1.73,3.44,1.58,3.27,1.56,2.91,1.39,2.48,1.29,2.25,1.125,1.85,.92,1.38,.84,1.07,.59,.68,.47,.44,.36,.15],[.05,2.85,.148,2.68,.05,2.49]],
[[.05,.13,.05,.99,.22,1.42,.385,1.82,.55,2.25,.71,2.6,.88,2.91,.96,3.27,1.1,3.5,1.25,3.7,1.39,3.85,1.475,4.13,1.58,4.15,1.68,4.03,1.68,3.74,1.62,3.46,1.53,3.27,1.5,2.95,1.35,2.52,1.25,2.25,1.06,1.78,.88,1.35,.78,1.03,.55,.68,.45,.48,.32,.15],[.05,2.76,.107,2.68,.05,2.58]],
[[.055,.33,.065,.72,.24,1.31,.405,1.7,.57,2.13,.755,2.56,.9,2.84,1.02,3.23,1.21,3.42,1.35,3.66,1.475,3.78,1.59,4.05,1.65,3.93,1.6,3.46,1.485,3.27,1.43,2.8,1.29,2.4,1.19,2.13,1.02,1.74,.84,1.31,.71,1.07,.51,.68,.385,.36,.3,.15,.117,.13]],
[[.065,.4,.14,.76,.3,1.27,.467,1.66,.63,2.09,.8,2.48,.94,2.8,1.06,3.15,1.25,3.31,1.39,3.42,1.455,3.27,1.43,2.95,1.33,2.56,1.146,2.09,.98,1.7,.82,1.35,.67,1.11,.49,.72,.34,.29,.26,.15,.14,.13]],
[[.076,.29,.16,.68,.34,1.19,.51,1.58,.65,1.93,.82,2.36,.96,2.72,1.085,3.07,1.27,3.27,1.39,3.31,1.41,3.15,1.39,2.87,1.27,2.52,1.1,2.09,.94,1.74,.8,1.42,.67,1.19,.49,.8,.34,.36,.24,.15,.15,.13]]
];
const p6Blue = [
[1.36,4.345,1.33,4.25,1.21,4.11,1.156,3.95,1.136,3.72,1,3.46,.93,3.31,.86,3.28,.786,3.12,.714,3.11,.63,2.84,.53,2.52,.477,2.31,.436,2.09,.32,1.74,.3,1.62,.2,1.35,.117,1.07,.055,.84,.035,.48],
[.447,.54,.51,.42,.58,.42,.64,.52,.69,.8,.755,1.03,.84,1.31,.83,1.62,.9,1.93,1.02,2.36,1.146,2.6,1.21,2.95,1.25,3.38,1.37,3.46,1.43,3.78,1.54,4.05,1.61,4.345],
[.14,.13,.24,.13,.32,.33,.467,.72,.61,1.11,.8,1.42,.94,2.09,1.02,2.6,1.06,2.91,.99,3.1,.86,2.99,.735,2.8,.61,2.44,.51,2.05,.385,1.62,.22,1.15,.076,.72,.035,.44],
[.17,.12,.35,.45,.52,.88,.66,1.26,.8,1.7,.9,2.2,.93,2.55,.88,2.78,.77,2.65,.66,2.4,.54,2,.42,1.6,.3,1.2,.16,.82,.05,.35],
[.2,.15,.38,.55,.55,1,.7,1.5,.8,1.95,.87,2.35,.86,2.55,.8,2.6,.76,2.45,.7,2.55,.6,2.15,.46,1.72,.33,1.3,.2,.85,.09,.45]
];
const p6Red = [
[0,.33,.014,.52,.12,.7,.21,1.03,.26,1.07,.2,1.2,.2,1.3,.28,1.5,.34,1.6,.395,1.8,.395,1.95,.44,1.99,.48,1.99,.45,2.17],
[.52,2.05,.55,2.29,.57,2.4,.63,2.47,.69,2.4,.65,2.25,.72,2.15,.7,2.3,.72,2.44,.76,2.35,.72,2.25],
[1.157,3.51,1.218,3.44,1.218,3.29,1.167,3.29,1.146,3.4,1.157,3.51],
[.09,.03,.117,.11,.16,.25,.22,.52,.32,.84,.385,.99,.467,1.11],
[.62,1.85,.66,1.82,.62,1.78],
[.63,2.02,.64,2.0]
];
const p6Black = [1.64,4.28,1.82,4.3,1.72,4.2,1.76,4.15,1.75,4.15,1.83,4.27,1.55,4.1,1.45,4.05,1.55,4.05,1.57,4.12,1.53,3.95,1.48,3.95,1.5,3.85,1.44,3.83,1.47,3.84,1.53,3.9,1.6,3.9,1.67,3.8,1.5,3.75,1.5,3.7,1.45,3.75,1.38,3.67,1.48,3.67,1.52,3.65,1.55,3.62,1.37,3.6,1.44,3.58,1.47,3.6,1.4,3.52,1.44,3.5,1.48,3.48,1.55,3.47,1.38,3.45,1.35,3.35,1.38,3.35,1.43,3.33,1.47,3.33,1.36,3.27,1.39,3.25,1.3,3.28,1.28,3.15,1.32,3.05,1.3,3.1,1.38,3.12,1.22,3.2,1.22,3.1,1.21,3,1.27,3,1.17,3.1,1.31,2.95,1.3,2.92,1.25,2.9,1.17,2.88,1.14,2.85,1.19,2.85,1.03,2.83,1.04,2.8,1.11,2.76,1.14,2.74,1.16,2.75,1.35,2.73,1.08,2.7,1.12,2.7,1.2,2.67,1.1,2.65,1.27,2.65,1.17,2.6,1,2.6,1.03,2.57,1.05,2.55,.98,2.55,1,2.47,1.09,2.5,.95,2.45,.97,2.47,.92,2.4,.94,2.4,1.03,2.38,.98,2.35,.85,2.3,.88,2.28,.82,2.3,.8,2.2,.87,2.2,.81,2.17,.91,2.15,.84,2.13,.8,2.1,.85,2.05,.78,2.05,.72,2.05,.78,2,.82,2,.68,1.93,.7,1.88,.65,1.85,.62,1.8,.56,1.8,.68,1.75,.63,1.72,.6,1.7,.58,1.65,.62,1.62,.65,1.6,.6,1.57,.55,1.55,.39,1.53,.45,1.5,.54,1.48,.58,1.45,.52,1.4,.4,1.4,.42,1.35,.57,1.4,.48,1.3,.43,1.27,.4,1.25,.37,1.24,.28,1.26,.4,1.15,.36,1.1,.32,1.05,.13,1,.3,1,.18,.86,.28,.82,.25,.87,.09,.75,.12,.72,.22,.73,.2,.68,.16,.65,.19,.64,.08,.55,.06,.3,.09,.32,.03,.1,.05,.15,.02,.08,.1,.25];
const p6Orange = [1.77,4.33,1.69,4.13,1.83,4.1,1.93,3.82,1.2,3.58,1.33,3.55,1.05,3.47,1.22,3.43,1.55,3.17,.95,3.17,1.04,3.12,1.06,3.1,.82,3.07,.86,3.06,.78,2.98,1.18,3.03,1.6,2.88,1.37,2.95,1.38,2.95,1.43,2.88,1.25,2.84,1.27,2.84,1.49,2.83,.7,2.72,.88,2.75,.93,2.75,.97,2.75,1.1,2.72,.95,2.7,.97,2.65,.75,2.63,1.28,2.67,1.33,2.68,.7,2.5,.72,2.43,.8,2.52,.85,2.52,.87,2.5,1.2,2.5,1.15,2.4,1.29,2.43,.85,2.35,.56,2.22,.62,2.3,.9,2.3,1.04,2.3,1,2.2,.65,2.12,.55,2.18,1.09,2.2,1,2.13,1.06,2.1,1.19,2.08,1.45,2.05,.46,1.97,.57,2,.52,1.98,.62,2.03,.74,1.95,.75,1.92,1.02,1.95,.97,1.93,.89,1.9,.97,1.9,1.03,1.9,1.07,1.9,.97,1.83,.95,1.78,.77,1.88,.68,1.82,.72,1.8,.8,1.75,.85,1.72,.92,1.73,.97,1.72,.19,1.65,.27,1.75,.32,1.77,.33,1.72,.45,1.65,.5,1.7,.66,1.62,.7,1.62,.75,1.55,.74,1.45,.75,1.42,.8,1.42,.32,1.55,.37,1.42,.48,1.55,.6,1.45,.62,1.25,.68,1.28,.8,1.27,.58,1.2,.62,1.17,.66,1.18,.3,1.17,.5,1.05,.55,1,.64,1.02,.7,1.02,.75,1.02,.08,.97,.22,.87,.4,.97,.47,.9,.38,.8,.47,.8,.31,.85,.06,.75,.3,.72,.37,.72,.45,.72,.31,.65,.2,.6,.26,.6,.47,.55,.4,.52,.27,.48,.17,.5,.1,.45,.04,.4,.33,.4,.25,.3,.33,.3,.19,.27,.03,.25,.13,.22,.21,.2,.07,.15,.06,.07,.05,.05];

// panel 7: 8.6GS vs 7.7GS (carries the legend)
const p7Fill = [
[[.037,.16,.037,1.03,.104,1.47,.216,1.75,.335,2.18,.454,2.66,.587,3.02,.632,3.37,.69,3.57,.78,3.81,.9,3.89,.974,4.09,.996,4.4,1.19,4.4,1.152,4,1.108,3.61,1.078,3.29,1.018,3.06,.915,2.58,.81,2.1,.69,1.71,.587,1.27,.513,1.07,.394,.71,.305,.32,.245,.16]],
[[.037,.16,.045,.87,.14,1.43,.26,1.75,.364,2.18,.483,2.62,.617,2.98,.69,3.45,.766,3.57,.87,3.77,.99,4,1.02,4.13,1.123,4.25,1.152,4.19,1.115,3.85,1.063,3.29,1,3.13,.9,2.62,.78,2.1,.662,1.75,.558,1.31,.47,1.03,.38,.71,.29,.32,.23,.16]],
[[.045,.32,.052,.71,.17,1.35,.29,1.7,.394,2.14,.513,2.54,.647,2.94,.72,3.45,.825,3.53,.93,3.69,1.02,3.85,1.078,4.05,1.115,4.09,1.056,3.53,1.018,3.29,.944,2.94,.855,2.5,.75,2.06,.632,1.71,.528,1.35,.439,1.03,.35,.67,.26,.28,.216,.16,.08,.16]],
[[.052,.4,.097,.8,.216,1.35,.335,1.72,.439,2.14,.558,2.52,.662,2.88,.736,3.37,.855,3.49,.944,3.57,1.004,3.45,.974,3.17,.915,2.86,.81,2.42,.706,2.02,.587,1.63,.483,1.31,.41,1.03,.32,.63,.23,.2,.186,.16,.097,.16]],
[[.067,.36,.126,.75,.245,1.28,.364,1.72,.468,2.12,.572,2.44,.677,2.84,.75,3.33,.84,3.45,.93,3.45,.93,3.17,.885,2.86,.766,2.42,.662,2.02,.558,1.67,.468,1.39,.38,1.03,.29,.6,.216,.2,.126,.16]]
];
const p7Blue = [
[1.197,4.4,1.18,4.25,1.123,4.19,1.05,3.85,.974,3.63,.915,3.49,.84,3.41,.766,3.29,.677,3.31,.617,3.13,.543,2.96,.483,2.88,.41,2.78,.38,2.54,.357,2.3,.29,2.1,.26,1.9,.26,1.79,.17,1.43,.082,1.15,.03,.71,.022,.24],
[1.383,4.4,1.346,4.09,1.286,4,1.264,3.73,1.249,3.61,1.175,3.53,1.115,3.39,1.063,3.35,1.018,3.1,.93,2.54,.78,2.06,.662,1.71,.558,1.35,.454,1.03,.364,.75,.26,.36,.2,.12,.097,.12],
[.12,.1,.2,.13,.3,.4,.43,.8,.55,1.15,.67,1.75,.75,2.1,.87,2.6,.885,2.85,.825,3.03,.74,3.02,.64,2.7,.52,2.4,.44,2,.32,1.6,.2,1.2,.08,.88,.03,.5],
[.14,.12,.25,.28,.37,.7,.5,1.2,.6,1.55,.7,1.98,.74,2.28,.66,2.45,.55,2.4,.45,2.1,.33,1.65,.23,1.25,.12,.8,.05,.42]
];
const p7Red = [
[.885,3.35,.915,3.45,.93,3.39,.92,3.29,.885,3.29,.885,3.35],
[.84,3.83,.858,3.75,.848,3.66,.825,3.69,.825,3.77,.84,3.83],
[.766,3.38,.78,3.29,.766,3.2,.75,3.29,.766,3.38],
[.58,2.24,.6,2.42,.66,2.42,.69,2.34,.73,2.42,.773,2.5,.793,2.38,.78,2.28,.736,2.18,.706,2.06,.647,2.04,.595,2.1,.5,2.08],
[.3,.45,.35,.62,.43,.88,.47,1.1,.52,1.38,.55,1.7,.62,1.72,.66,1.85,.7,2.05],
[.015,.16,.015,.4,.097,.71,.2,.83,.26,1.01,.297,.95,.29,.77,.23,.55,.2,.36,.15,.22],
[.09,.05,.12,.1,.06,.04]
];
const p7Black = [1.18,4.25,1.24,4.39,1.28,4.27,1.23,4.36,1.21,4.18,1.23,4.15,1.2,4.1,1.05,4.12,1.1,4.02,1.14,4.02,1.12,3.98,1.03,3.9,1.05,3.9,1.1,3.85,1.16,3.9,1.16,3.85,1.16,3.8,1.13,3.75,1.1,3.8,1.12,3.72,1.08,3.72,.93,3.62,.96,3.68,1.02,3.67,1.05,3.5,1.07,3.55,1,3.55,1.03,3.45,1.06,3.45,.96,3.42,.98,3.28,.97,3.3,.96,3.27,1.02,3.37,.84,3.47,.88,3.47,.9,3.35,.92,3.28,.95,3.27,.88,3.19,.91,3.15,.87,3.12,.86,3.06,.94,3.06,.76,3.07,.76,3,.7,2.97,.85,2.97,.81,3.03,.86,2.92,.82,2.85,.8,2.8,.88,2.85,.8,2.7,.77,2.7,.76,2.65,.73,2.62,.77,2.62,.8,2.67,.76,2.55,.73,2.48,.71,2.45,.74,2.42,.69,2.42,.66,2.4,.63,2.38,.65,2.3,.6,2.28,.56,2.3,.62,2.22,.65,2.2,.55,2.08,.58,2.1,.62,2.05,.56,2,.52,2.08,.44,2.3,.48,2.2,.38,2.05,.42,1.93,.47,1.87,.5,1.87,.44,1.83,.48,1.77,.53,1.75,.3,1.82,.35,1.7,.37,1.72,.4,1.62,.46,1.68,.32,1.72,.28,1.67,.48,1.55,.42,1.5,.43,1.47,.3,1.56,.36,1.4,.4,1.43,.46,1.4,.29,1.48,.31,1.3,.3,1.25,.33,1.25,.34,1.15,.2,1.2,.22,1.3,.26,1.28,.26,1.05,.22,1,.24,.95,.18,.92,.2,.87,.15,.82,.16,.77,.2,.78,.14,.7,.12,.67,.11,.55,.08,.45,.08,.32,.06,.3,.07,.2,.04,.2,.05,.17,.01,.08,.09,.16,.13,.15];
const p7Orange = [.86,4.35,.65,4.13,.7,4.09,.74,3.8,.7,3.57,.7,3.55,.52,3.47,.64,3.43,.35,3.43,.36,3.1,.56,3.11,.59,3.17,.61,3.15,.57,3.05,.7,3.07,.63,3.03,.63,2.97,.48,2.95,.52,2.82,.56,2.87,.61,2.9,.6,2.84,.62,2.75,.37,2.75,.39,2.68,.46,2.7,.48,2.67,.5,2.72,.55,2.68,.56,2.63,.7,2.65,.22,2.5,.31,2.52,.36,2.52,.38,2.53,.48,2.5,.32,2.42,.35,2.4,.42,2.42,.51,2.4,.37,2.3,.45,2.25,.52,2.18,.3,2.2,.42,2.2,.31,2.15,.37,2.15,.39,2.12,.44,2.05,.48,2.12,.25,2.03,.4,2,.25,1.93,.29,1.87,.35,1.9,.41,1.87,.44,1.9,.24,1.82,.37,1.8,.31,1.77,.13,1.77,.15,1.78,.19,1.73,.21,1.73,.23,1.7,.34,1.73,.4,1.77,.45,1.75,.25,1.63,.31,1.58,.25,1.55,.16,1.6,.17,1.55,.33,1.55,.14,1.4,.18,1.4,.27,1.48,.06,1.37,.18,1.3,.24,1.3,.07,1.26,.14,1.22,.38,1.24,.05,1.12,.08,1.15,.12,1.12,.14,1.15,.2,1.18,.06,1.02,.11,1,.17,1.07,.24,1.08,.27,.97,.06,.87,.12,.9,.2,.95,.29,.85,.08,.75,.13,.75,.18,.73,.25,.78,.33,.75,.34,.73,.07,.55,.1,.6,.18,.62,.25,.62,.07,.42,.2,.55,.27,.42,.15,.4,.2,.32,.24,.3,.23,.24,.04,.1,.08,.15,.1,.2,.12,.25,.13,.15,.09,.1,.15,.1,.11,.06,.06,.03,.12,.15,.14,.2];

// panel 8: 11.0 vs 7.7GS
const p8Fill = [
[[.0023,.15,.0023,1.71,.0056,2.39,.0116,2.7,.0153,2.89,.0209,3,.0237,3.19,.032,3.8,.0395,3.91,.0451,3.91,.0488,3.95,.0488,4.21,.0637,4.21,.0665,4.03,.0692,3.87,.0804,3.85,.0823,3.65,.0832,3.27,.0813,2.7,.0767,2.51,.0692,2.16,.0627,2.09,.0609,1.82,.0534,1.41,.0441,1.29,.0358,1.25,.033,1.03,.0274,.8,.0228,.53,.0181,.23,.0144,.15]],
[[.0023,.15,.0028,1.29,.006,1.9,.0107,2.32,.0116,2.51,.0181,2.81,.0246,3.15,.033,3.63,.0432,3.76,.0493,3.51,.0507,3.84,.0553,4.1,.0581,4.21,.0595,3.95,.059,3.65,.073,3.65,.0795,3.65,.0813,3.23,.0804,2.81,.0748,2.54,.0683,2.28,.0627,2.13,.06,1.86,.0525,1.48,.0432,1.37,.0349,1.33,.0311,1.03,.0246,.72,.02,.38,.0153,.15]],
[[.0028,.23,.0028,1.03,.0079,1.67,.0135,2.05,.0163,2.39,.0218,2.62,.0265,2.73,.0293,3.11,.033,3.38,.0423,3.76,.0488,3.38,.0507,3.3,.0581,3.51,.072,3.59,.0785,3.53,.0795,3.15,.0767,2.73,.072,2.54,.0664,2.32,.06,1.97,.0507,1.56,.0404,1.44,.033,1.41,.0293,1.06,.0228,.72,.0191,.38,.0144,.15,.0042,.13]],
[[.0028,.34,.0033,.72,.0107,1.37,.0163,1.9,.0228,1.97,.0302,2.28,.0395,2.77,.0488,3.15,.0581,3.42,.0674,3.44,.0748,3.38,.0753,3.11,.073,2.7,.0674,2.47,.0618,2.16,.0553,1.75,.0469,1.6,.0386,1.56,.0316,1.48,.0283,1.22,.0228,.8,.0181,.42,.0135,.15,.0051,.13]],
[[.0037,.3,.0051,.76,.0116,1.37,.0172,1.75,.0218,1.82,.0246,1.67,.0274,1.56,.0246,1.37,.0218,1.18,.0195,.72,.0158,.34,.0116,.15,.0051,.13],[.0339,2.09,.0414,2.54,.0469,2.89,.0581,3.34,.0674,3.32,.0716,3.15,.0706,2.7,.0655,2.47,.059,2.2,.0544,1.9,.0469,1.75,.0414,1.82,.0358,1.94]]
];
const p8Blue = [
[.0632,4.21,.0627,4.06,.059,3.84,.0572,3.51,.0539,3.51,.052,3.32,.0483,3.31,.0423,3.1,.0376,3.11,.0344,3.19,.0293,3.3,.0242,3.21,.0218,3.08,.0177,2.92,.0163,2.79,.0105,2.75,.0105,2.35,.0116,2.2,.0088,1.86,.006,1.71,.0033,1.48,.0019,1.1,.0014,.89],
[.0718,4.21,.0706,3.91,.0702,3.74,.066,3.57,.0618,3.34,.0613,3.04,.0581,2.85,.0544,2.77,.053,2.62,.0534,2.13,.0488,2.05,.0469,2.03,.0441,1.82,.0404,1.67,.0395,1.56,.0358,1.33,.033,1.1,.0293,1,.0256,1.03,.0223,.87,.02,.49,.0153,.19],
[.0014,.53,.0051,.95,.0107,1.33,.0153,2.09,.0181,2.51,.0228,2.64,.0293,2.46,.0344,2.51,.0372,2.75,.0395,2.81,.0432,2.72,.0427,2.32,.0358,1.94,.0302,1.48,.0246,1.33,.0195,1.1,.0153,.68,.0098,.17],
[.0019,.42,.0088,1.06,.0144,1.67,.0195,2.13,.0205,1.75,.0218,1.71,.0223,2.09,.0265,2.13,.0293,2.01,.0302,1.86,.0242,1.61,.0205,1.33,.0153,1.03,.0125,.53,.007,.15],
[.0028,.3,.008,.8,.0135,1.25,.0175,1.6,.0195,1.65,.0175,1.3,.0135,.85,.0095,.4,.0065,.12]
];
const p8Red = [
[.0028,.06,.006,.06,.0098,.08,.0153,.15,.0181,.3,.0195,.23,.0223,.24,.0228,.38,.0209,.46,.0218,.63,.0256,.65,.0274,.84,.0302,.89,.033,.99,.0339,1.1,.0349,1.29,.039,1.31,.0409,1.41,.0404,1.54,.0367,1.58,.0344,1.82,.0349,1.97,.033,2.06,.032,1.9,.0302,1.86,.0283,2.05,.0246,1.86,.0204,1.94,.0172,1.82,.0163,1.58,.0177,1.41,.0144,1.29,.0079,1.37,.007,1.25],
[.039,2.05,.0414,2.18,.0432,2.13,.0432,2.01,.0451,1.86,.0423,1.86,.0395,1.94,.039,2.05],
[.0488,1.96,.0516,2.02,.0536,1.96,.0525,1.89,.0499,1.89,.0488,1.96],
[.0488,2.32,.0516,2.35,.053,2.49,.0534,2.24,.0507,2.22,.0488,2.24],
[.0267,2.27,.0279,2.2,.0267,2.15,.0256,2.2,.0267,2.27],
[.0005,.27,.0023,.42,.0088,.67,.0144,.87,.0177,.8,.0172,.6,.0125,.4,.0088,.2],
[.0163,1.54,.0209,1.56,.0209,1.52,.0163,1.5,.0163,1.54]
];
const p8Black = [.0445,4.12,.0785,4.2,.092,4.2,.094,4.2,.0755,4.05,.081,4.05,.0828,4.06,.0785,3.95,.0858,3.92,.0865,3.95,.0838,3.9,.091,3.9,.0535,3.9,.0595,3.9,.0705,3.8,.075,3.85,.078,3.85,.0825,3.75,.0945,3.8,.0885,3.7,.09,3.65,.0452,3.67,.047,3.62,.0675,3.67,.0755,3.67,.0925,3.6,.0805,3.6,.0815,3.57,.0845,3.56,.0872,3.55,.072,3.56,.0735,3.52,.0765,3.53,.077,3.5,.0315,3.47,.0345,3.47,.0705,3.53,.0625,3.45,.0745,3.45,.0795,3.45,.0825,3.44,.08,3.44,.081,3.44,.0765,3.39,.0675,3.37,.0685,3.37,.0695,3.27,.0595,3.33,.0635,3.28,.0735,3.25,.0745,3.2,.0825,3.32,.0675,3.14,.0685,3.1,.07,3.16,.0722,3.13,.0788,3.13,.0768,3.06,.0615,3.19,.0615,3.1,.0625,3.07,.0555,3.03,.0725,2.98,.0375,3.08,.0355,3.03,.0318,2.98,.065,2.94,.066,2.92,.0675,2.9,.0485,2.95,.057,2.9,.068,2.85,.07,2.85,.0615,2.83,.0525,2.83,.053,2.8,.0505,2.75,.0535,2.74,.029,2.76,.037,2.73,.06,2.7,.0605,2.67,.051,2.67,.0575,2.68,.0645,2.7,.0335,2.65,.0475,2.62,.0595,2.65,.0535,2.67,.054,2.58,.0625,2.58,.0635,2.58,.0555,2.55,.056,2.53,.0225,2.55,.0478,2.48,.034,2.48,.05,2.38,.0605,2.47,.0595,2.44,.0285,2.4,.039,2.4,.0455,2.4,.0515,2.36,.0565,2.36,.0415,2.34,.0255,2.33,.0195,2.3,.0365,2.33,.0425,2.28,.0435,2.28,.0475,2.28,.0495,2.2,.0575,2.27,.034,2.24,.043,2.24,.0495,2.22,.0445,2.13,.0145,2.18,.025,2.1,.0185,2.02,.0365,2.05,.0395,2.05,.041,2.02,.0425,2.02,.0495,2.08,.048,2.03,.0335,1.92,.0205,1.9,.0395,1.9,.0405,1.87,.028,1.87,.0315,1.82,.0355,1.8,.01,1.8,.019,1.68,.0205,1.7,.0275,1.74,.0295,1.7,.0325,1.7,.0385,1.7,.0135,1.65,.0305,1.55,.025,1.53,.0325,1.52,.0385,1.6,.031,1.5,.0125,1.5,.0155,1.48,.0205,1.47,.0245,1.44,.021,1.38,.0105,1.38,.029,1.4,.0295,1.38,.0135,1.3,.008,1.27,.009,1.25,.018,1.26,.0205,1.25,.0205,1.18,.0225,1.15,.0075,1.1,.0165,1.07,.0075,1,.0048,.97,.015,1,.013,.93,.0085,.87,.0125,.85,.01,.78,.004,.73,.007,.75,.0065,.63,.0075,.65,.0095,.67,.0038,.42,.005,.33,.0035,.3,.0025,.28,.0055,.43,.003,.15,.0035,.05,.008,.1];
const p8Orange = [.0125,4.09,.0107,3.82,.0117,3.42,.0197,3.47,.005,3.17,.0107,3.12,.0107,3.04,.0082,2.95,.0065,2.83,.0117,2.83,.0137,2.85,.0082,2.68,.0145,2.72,.0137,2.67,.0197,2.68,.0105,2.52,.0225,2.5,.0225,2.42,.0078,2.3,.0128,2.3,.0065,2.14,.0075,2.13,.0048,2.1,.0098,2.15,.0145,2.2,.0183,2.1,.0225,2.15,.0082,2,.0115,2.05,.0123,2,.0155,1.97,.0085,1.92,.0095,1.92,.0125,1.87,.014,1.88,.0163,1.85,.0235,1.92,.0032,1.75,.0062,1.77,.0068,1.72,.0075,1.7,.0078,1.78,.0115,1.8,.0155,1.8,.0165,1.8,.0068,1.65,.0122,1.7,.0075,1.53,.0098,1.55,.011,1.55,.0125,1.58,.0185,1.55,.0165,1.5,.0062,1.37,.0112,1.4,.0165,1.4,.018,1.45,.0055,1.2,.008,1.3,.0105,1.13,.011,1.13,.0188,1.18,.0075,1.05,.0085,1.03,.0115,1,.0128,.97,.0165,1.04,.018,.93,.0035,.9,.0048,.88,.0085,.88,.0108,.87,.0125,.87,.0068,.75,.013,.73,.0125,.7,.0165,.72,.0105,.6,.0165,.53,.0065,.47,.0145,.4,.0085,.35,.0105,.32,.0115,.3,.013,.33,.0155,.28,.0075,.2,.0085,.17,.0095,.2,.0125,.2,.0135,.15,.0145,.13,.015,.18,.0183,.2,.0155,.12,.0195,.06,.021,.08,.0055,.03,.0085,.05,.0105,.03];

// panel 9: 12.7 vs 7.7GS
const p9Fill = [
[[.013,.14,.013,1.23,.047,1.67,.083,2.46,.107,2.66,.143,3.33,.186,3.45,.21,3.77,.246,4,.252,4.4,.307,4.4,.307,4,.283,3.41,.274,3.17,.27,2.74,.246,2.34,.228,1.98,.186,1.67,.162,1.31,.143,.95,.131,.6,.101,.24,.083,.14]],
[[.016,.16,.016,1.07,.053,1.59,.095,2.38,.119,2.62,.15,3.29,.198,3.45,.222,3.81,.265,4,.289,4,.295,3.85,.277,3.41,.27,3.02,.265,2.66,.237,2.26,.216,1.98,.18,1.63,.156,1.31,.137,.95,.125,.6,.095,.24,.077,.14]],
[[.019,.2,.022,.91,.059,1.43,.107,2.3,.125,2.62,.162,3.25,.21,3.41,.24,3.77,.268,3.85,.265,3.41,.258,2.86,.228,2.3,.204,1.94,.168,1.55,.143,1.19,.125,.71,.089,.24,.071,.14]],
[[.022,.2,.035,.87,.071,1.35,.113,2.14,.137,2.58,.174,3.17,.216,3.37,.246,3.65,.258,3.57,.252,2.94,.228,2.42,.198,1.98,.162,1.51,.137,1.11,.119,.67,.086,.24,.065,.14]],
[[.025,.2,.044,.71,.083,1.19,.119,2.06,.15,2.54,.18,3.13,.219,3.37,.24,3.41,.246,3.06,.222,2.46,.186,1.98,.15,1.51,.125,1.07,.107,.63,.08,.24,.059,.14]]
];
const p9Blue = [
[.576,4.4,.573,4.13,.529,3.94,.529,3.71,.495,3.53,.47,3.32,.481,3.13,.481,2.72,.464,2.46,.434,2.3,.392,1.94,.373,1.71,.373,1.47,.367,1.33,.319,1.33,.295,1.46,.27,1.23,.246,1.03,.222,.91,.192,.63,.174,.48,.15,.38,.107,.33,.089,.2,.077,.11,.04,.11],
[.493,4.4,.437,4.11,.416,3.93,.395,3.51,.367,3.31,.307,3.25,.277,3.21,.258,3.13,.222,2.98,.192,2.7,.168,2.46,.143,2.1,.113,1.63,.071,1.35,.035,1.11,.013,.91,.013,.48],
[.025,.48,.04,.8,.07,1.1,.12,1.5,.17,2,.2,2.4,.24,2.65,.27,2.75,.3,2.84,.34,2.89,.37,2.8,.39,2.73,.365,2.45,.34,2.12,.33,1.9,.29,1.72,.23,1.45,.17,1.03,.13,.82,.09,.47,.07,.2],
[.02,.48,.05,.85,.1,1.2,.14,1.75,.19,2,.22,2.35,.27,2.49,.29,2.4,.3,2.3,.295,1.95,.26,1.7,.2,1.47,.15,1.2,.12,.8,.1,.55,.07,.25],
[.03,.55,.07,.9,.12,1.4,.17,1.9,.2,2.1,.24,2.2,.26,2.1,.25,1.9,.2,1.55,.155,1.4,.13,1.12,.14,1,.11,.7,.08,.3]
];
const p9Red = [
[.004,.22,.004,.32,.047,.6,.095,.79,.131,.89,.168,.9,.172,.79,.156,.62,.131,.48,.101,.34],
[.004,.2,.05,.45,.101,.62,.131,.72,.125,.56,.095,.4],
[.019,.06,.095,.07,.131,.2,.156,.24,.159,.36,.174,.48,.198,.63,.225,.63,.252,.83,.277,.89,.301,1.07,.307,1.19,.337,1.25,.346,1.35,.361,1.47,.373,1.55,.373,1.67,.383,1.77,.398,1.83,.413,1.83,.425,1.75,.458,1.75,.461,1.94,.452,2.02,.452,2.12,.47,2.12,.485,2.22,.527,2.26,.522,2.36,.527,2.46,.522,2.48,.479,2.52,.464,2.42,.428,2.36,.425,2.26,.41,2.25,.404,2.1,.386,2,.373,2.05,.343,2.04,.334,1.87,.313,1.86,.302,1.94,.315,2.02,.301,2.1,.283,2.1,.268,1.94,.268,1.79,.289,1.71,.306,1.62,.283,1.61,.265,1.67,.249,1.6,.222,1.77,.198,1.78,.174,1.67,.143,1.47],
[.12,1.5,.14,1.75,.165,1.98,.18,1.9,.175,1.75,.14,1.55]
];
const p9Black = [.265,4.39,.272,4.27,.305,4.3,.305,4.25,.295,4.13,.255,4.18,.26,4.15,.27,4.1,.275,4.08,.258,4.03,.24,4.02,.24,3.97,.295,3.95,.295,3.9,.27,3.9,.25,3.9,.283,3.88,.23,3.85,.25,3.85,.255,3.75,.245,3.72,.285,3.78,.275,3.75,.26,3.65,.228,3.67,.265,3.6,.22,3.55,.215,3.55,.235,3.55,.24,3.57,.25,3.52,.27,3.5,.26,3.45,.23,3.48,.24,3.45,.205,3.45,.212,3.42,.307,3.47,.28,3.35,.255,3.35,.29,3.3,.285,3.27,.3,3.25,.2,3.27,.198,3.15,.205,3.1,.18,3.1,.2,3.05,.24,3.12,.235,3.15,.29,3.1,.275,3.13,.25,3.07,.22,3.03,.235,3.03,.2,2.98,.185,2.95,.175,2.9,.23,2.92,.285,2.9,.27,2.85,.18,2.83,.185,2.82,.17,2.7,.215,2.77,.225,2.75,.265,2.72,.26,2.68,.262,2.63,.205,2.7,.165,2.65,.155,2.6,.17,2.55,.185,2.52,.195,2.55,.21,2.55,.198,2.45,.23,2.5,.17,2.5,.17,2.43,.145,2.38,.16,2.35,.195,2.38,.205,2.35,.13,2.3,.14,2.28,.175,2.25,.22,2.15,.135,2.2,.15,2.2,.18,2.2,.2,2.06,.12,2.05,.13,2.03,.13,2,.16,2.03,.11,1.95,.125,1.88,.145,1.93,.115,1.8,.135,1.8,.145,1.73,.16,1.7,.12,1.72,.105,1.7,.095,1.65,.1,1.6,.11,1.63,.12,1.55,.105,1.55,.095,1.5,.085,1.43,.08,1.37,.095,1.4,.11,1.35,.125,1.45,.065,1.27,.085,1.25,.075,1.22,.07,1.15,.06,1.1,.045,1,.065,.97,.08,.93,.05,.9,.065,.85,.035,.85,.05,.75,.045,.65,.05,.62,.03,.55,.035,.5,.045,.45,.025,.32,.02,.3,.015,.17,.01,.08,.02,.2];
const p9Orange = [.195,4.35,.125,4.09,.155,4.12,.195,3.82,.125,3.55,.13,3.43,.18,3.58,.185,3.45,.11,3.1,.13,3.17,.155,3.15,.135,3.07,.17,3.07,.065,2.95,.08,3,.105,3.03,.12,2.95,.08,2.85,.125,2.9,.135,2.9,.145,2.85,.09,2.76,.075,2.72,.08,2.7,.065,2.63,.105,2.74,.115,2.75,.13,2.75,.13,2.68,.14,2.7,.15,2.65,.165,2.75,.05,2.45,.055,2.4,.09,2.42,.145,2.52,.155,2.5,.055,2.3,.095,2.3,.09,2.25,.09,2.2,.15,2.35,.075,2.1,.08,2.05,.12,2.12,.14,2.18,.085,1.95,.09,1.9,.095,1.9,.1,1.95,.15,1.88,.17,1.9,.185,1.9,.06,1.78,.065,1.77,.085,1.75,.1,1.77,.115,1.75,.05,1.57,.06,1.6,.07,1.6,.085,1.6,.1,1.62,.125,1.6,.035,1.3,.065,1.42,.13,1.5,.145,1.3,.065,1.15,.075,1.05,.1,1.05,.115,1,.145,1.03,.035,.9,.08,.95,.07,.85,.11,.9,.075,.75,.08,.7,.1,.7,.1,.62,.095,.73,.06,.55,.065,.5,.075,.42,.09,.45,.095,.35,.1,.3,.05,.2,.06,.22,.065,.3,.07,.2,.08,.25,.09,.2,.08,.15,.065,.15,.07,.08,.1,.13,.115,.18,.025,.03,.075,.02,.04,.05];

// legend of the lower left panel
const legendNames = ['NGC  7023','HH  PDR','HII  regions','M  17','RNe'];
const legendColors = ['#000000','#ff9a1a','#ff1010','#1f3ff0','#00ff40'];

const fillColors = ['#bbff00','#55ff00','#00f000','#00ff96','#00ffff'];
const textFont = '"Liberation Sans", Arial, sans-serif';

function pairs(a) {
    const out = [];
    for (let i = 0; i < a.length; i += 2) out.push({x: a[i], y: a[i + 1]});
    return out;
}

// IDL style box: thick frame and inward ticks on all four sides
const boxTicks = {
    id: 'boxTicks',
    afterDatasetsDraw(chart, args, opts) {
        const {ctx, chartArea: a, scales: {x, y}} = chart;
        ctx.save();
        ctx.strokeStyle = '#000';
        const side = (scale, majors, minors, horiz) => {
            const step = (majors[1] - majors[0]) / minors;
            ctx.lineWidth = 1.5;
            ctx.beginPath();
            for (let k = 0; majors[0] + k * step <= scale.max + 1e-9; k++) {
                const px = scale.getPixelForValue(majors[0] + k * step);
                const len = k % minors === 0 ? 7 : 3.5;
                if (horiz) {
                    ctx.moveTo(px, a.bottom); ctx.lineTo(px, a.bottom - len);
                    ctx.moveTo(px, a.top); ctx.lineTo(px, a.top + len);
                } else {
                    ctx.moveTo(a.left, px); ctx.lineTo(a.left + len, px);
                    ctx.moveTo(a.right, px); ctx.lineTo(a.right - len, px);
                }
            }
            ctx.stroke();
        };
        side(x, opts.xTicks, opts.xMinor, true);
        side(y, opts.yTicks, opts.yMinor, false);
        ctx.lineWidth = 2.4;
        ctx.strokeRect(a.left, a.top, a.right - a.left, a.bottom - a.top);
        ctx.restore();
    }
};

const panelLegend = {
    id: 'panelLegend',
    afterDraw(chart, args, opts) {
        if (!opts.show) return;
        const {ctx, chartArea: a} = chart;
        ctx.save();
        ctx.font = '20px ' + textFont;
        ctx.textAlign = 'right';
        ctx.textBaseline = 'middle';
        legendNames.forEach((name, i) => {
            const ly = a.top + 232 + i * 23.7;
            ctx.fillStyle = '#111';
            ctx.fillText(name, a.left + 286, ly);
            ctx.strokeStyle = legendColors[i];
            ctx.lineWidth = 2.2;
            ctx.beginPath();
            if (i < 2) {
                const lx = a.left + 303;
                for (let t = 0; t < 4; t++) {
                    const dx = 4.5 * Math.cos(t * Math.PI / 4), dy = 4.5 * Math.sin(t * Math.PI / 4);
                    ctx.moveTo(lx - dx, ly - dy); ctx.lineTo(lx + dx, ly + dy);
                }
            } else {
                ctx.moveTo(a.left + 296, ly); ctx.lineTo(a.left + 309, ly);
            }
            ctx.stroke();
        });
        ctx.restore();
    }
};

const colLeft = [58, 505, 953], colWidth = [339, 340, 339], rowTop = [6, 453, 901];

const panels = [
    {col:0,row:0,xName:'Scaled  6.2  flux',yName:'Scaled  11.2  flux',xMax:2.075,yMax:1.058,xTicks:ticks62,xLabels:labels62,yTicks:ticks112,yLabels:labels112,xMinor:5,yMinor:4,gap:42,fill:p1Fill,blue:p1Blue,red:p1Red,black:p1Black,orange:p1Orange},
    {col:1,row:0,xName:'Scaled  7.7GS  flux',yName:'Scaled  11.2  flux',xMax:5.77,yMax:1.058,xTicks:ticks77,xLabels:labels77,yTicks:ticks112,yLabels:labels112,xMinor:10,yMinor:4,gap:42,fill:p2Fill,blue:p2Blue,red:p2Red,black:p2Black,orange:p2Orange},
    {col:2,row:0,xName:'Scaled  8.6GS  flux',yName:'Scaled  11.2  flux',xMax:1.51,yMax:1.072,xTicks:ticks86,xLabels:labels86,yTicks:ticks112,yLabels:labels112,xMinor:4,yMinor:4,gap:43,fill:p3Fill,blue:p3Blue,red:p3Red,black:p3Black,orange:p3Orange,dash:p3Dash},
    {col:0,row:1,xName:'Scaled  11.0  flux',yName:'Scaled  11.2  flux',xMax:.0945,yMax:1.026,xTicks:ticks110,xLabels:labels110,yTicks:ticks112,yLabels:labels112,xMinor:4,yMinor:4,gap:42,fill:p4Fill,blue:p4Blue,red:p4Red,black:p4Black,orange:p4Orange},
    {col:1,row:1,xName:'Scaled  12.7  flux',yName:'Scaled  11.2  flux',xMax:.613,yMax:1.07,xTicks:ticks127,xLabels:labels127,yTicks:ticks112,yLabels:labels112,xMinor:10,yMinor:4,gap:42,fill:p5Fill,blue:p5Blue,red:p5Red,black:p5Black,orange:p5Orange},
    {col:2,row:1,xName:'Scaled  6.2  flux',yName:'Scaled  7.7GS  flux',xMax:2.095,yMax:4.345,xTicks:ticks62,xLabels:labels62,yTicks:ticksY77,yLabels:labelsY77,xMinor:5,yMinor:5,gap:30,fill:p6Fill,blue:p6Blue,red:p6Red,black:p6Black,orange:p6Orange},
    {col:0,row:2,xName:'Scaled  8.6GS  flux',yName:'Scaled  7.7GS  flux',xMax:1.512,yMax:4.397,xTicks:ticks86,xLabels:labels86,yTicks:ticksY77,yLabels:labelsY77,xMinor:10,yMinor:5,gap:30,fill:p7Fill,blue:p7Blue,red:p7Red,black:p7Black,orange:p7Orange,legend:true},
    {col:1,row:2,xName:'Scaled  11.0  flux',yName:'Scaled  7.7GS  flux',xMax:.0948,yMax:4.21,xTicks:ticks110,xLabels:labels110,yTicks:ticksY77,yLabels:labelsY77,xMinor:4,yMinor:5,gap:30,fill:p8Fill,blue:p8Blue,red:p8Red,black:p8Black,orange:p8Orange},
    {col:2,row:2,xName:'Scaled  12.7  flux',yName:'Scaled  7.7GS  flux',xMax:.616,yMax:4.397,xTicks:ticks127,xLabels:labels127,yTicks:ticksY77,yLabels:labelsY77,xMinor:10,yMinor:5,gap:30,fill:p9Fill,blue:p9Blue,red:p9Red,black:p9Black,orange:p9Orange}
];

function buildDatasets(p) {
    const sets = [];
    p.fill.forEach((polys, level) => {
        polys.forEach(poly => sets.push({
            data: pairs(poly), showLine: true, fill: 'shape', borderWidth: 0, pointRadius: 0,
            backgroundColor: fillColors[level], borderColor: fillColors[level], order: 20 - level
        }));
    });
    p.red.forEach(line => sets.push({data: pairs(line), showLine: true, borderColor: '#ff1010', borderWidth: 1.9, pointRadius: 0, order: 6}));
    p.blue.forEach(line => sets.push({data: pairs(line), showLine: true, borderColor: '#1f3ff0', borderWidth: 1.9, pointRadius: 0, order: 5}));
    (p.dash || []).forEach(line => sets.push({data: pairs(line), showLine: true, borderColor: '#000', borderWidth: 2.4, borderDash: [9, 8], pointRadius: 0, order: 4}));
    sets.push({data: pairs(p.black), pointStyle: 'star', pointRadius: 3.9, pointBorderWidth: 2.2, pointBorderColor: '#000', pointBackgroundColor: '#000', order: 2});
    sets.push({data: pairs(p.orange), pointStyle: 'star', pointRadius: 3.7, pointBorderWidth: 2.1, pointBorderColor: '#ff9a1a', pointBackgroundColor: '#ff9a1a', order: 1});
    return sets;
}

panels.forEach(p => {
    const canvas = document.createElement('canvas');
    const left = colLeft[p.col] - 58, top = rowTop[p.row] - 6;
    const w = 58 + colWidth[p.col] + 15, h = 6 + 369 + 42;
    canvas.style.left = left + 'px';
    canvas.style.top = top + 'px';
    canvas.style.width = w + 'px';
    canvas.style.height = h + 'px';
    canvas.width = w;
    canvas.height = h;
    document.body.appendChild(canvas);
    const padLeft = 58 - p.gap - 8;

    new Chart(canvas.getContext('2d'), {
        type: 'scatter',
        data: {datasets: buildDatasets(p)},
        plugins: [boxTicks, panelLegend],
        options: {
            responsive: false,
            animation: false,
            devicePixelRatio: 1,
            layout: {autoPadding: false, padding: {left: padLeft, right: 15, top: 6, bottom: 0}},
            scales: {
                x: {
                    type: 'linear', min: 0, max: p.xMax,
                    afterBuildTicks: s => { s.ticks = p.xTicks.map(v => ({value: v})); },
                    afterFit: s => { s.height = 42; s.paddingLeft = 0; s.paddingRight = 0; },
                    grid: {display: false, drawTicks: false},
                    border: {display: false},
                    ticks: {
                        autoSkip: false, maxRotation: 0, padding: 13, color: '#111',
                        font: {family: textFont, size: 14, lineHeight: .65},
                        callback: (v, i) => p.xLabels[i]
                    },
                    title: {display: true, text: p.xName, color: '#111', padding: {top: 0, bottom: 1},
                        font: {family: textFont, size: 14.5, lineHeight: 1.2}}
                },
                y: {
                    type: 'linear', min: 0, max: p.yMax,
                    afterBuildTicks: s => { s.ticks = p.yTicks.map(v => ({value: v})); },
                    afterFit: s => { s.width = 58 - padLeft; s.paddingTop = 0; s.paddingBottom = 0; },
                    grid: {display: false, drawTicks: false},
                    border: {display: false},
                    ticks: {
                        autoSkip: false, padding: 5, color: '#111',
                        font: {family: textFont, size: 14, lineHeight: .65},
                        // the lowest label sits a little above its tick, as in the original
                        callback: (v, i) => i === 0 ? [p.yLabels[i], ''] : p.yLabels[i]
                    },
                    title: {display: true, text: p.yName, color: '#111', padding: {top: 0, bottom: 0},
                        font: {family: textFont, size: 14.5, lineHeight: 1.2}}
                }
            },
            plugins: {
                legend: {display: false},
                tooltip: {enabled: false},
                boxTicks: {xTicks: p.xTicks, yTicks: p.yTicks, xMinor: p.xMinor, yMinor: p.yMinor},
                panelLegend: {show: !!p.legend}
            }
        }
    });
});
</script>
</body>
</html>
